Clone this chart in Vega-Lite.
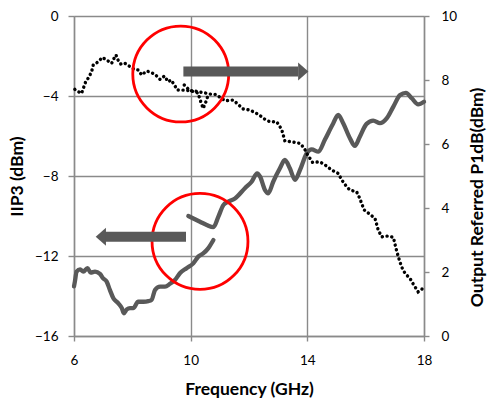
{
  "$schema": "https://vega.github.io/schema/vega-lite/v6.json",
  "autosize": "none",
  "width": 350,
  "height": 320,
  "padding": {"left": 74, "top": 16, "right": 63, "bottom": 63},
  "background": "white",
  "config": {
    "view": {"stroke": null},
    "font": "Lato",
    "axis": {
      "labelFont": "Lato", "labelFontSize": 13.5, "labelColor": "#000000",
      "titleFont": "Lato", "titleFontSize": 17.5, "titleFontWeight": "bold", "titleColor": "#000000",
      "domainColor": "#8a8a8a", "domainWidth": 1.4, "tickColor": "#8a8a8a", "tickWidth": 1.4,
      "gridColor": "#8a8a8a", "gridWidth": 1.4, "gridOpacity": 1
    }
  },
  "datasets": {
    "iip3": [
      {"f": 6.03, "v": -3.67, "seg": "A"}, {"f": 6.09, "v": -3.74, "seg": "A"}, {"f": 6.26, "v": -3.87, "seg": "A"},
      {"f": 6.32, "v": -3.62, "seg": "A"}, {"f": 6.40, "v": -3.29, "seg": "A"}, {"f": 6.52, "v": -3.04, "seg": "A"},
      {"f": 6.61, "v": -2.75, "seg": "A"}, {"f": 6.66, "v": -2.45, "seg": "A"}, {"f": 6.83, "v": -2.29, "seg": "A"},
      {"f": 6.97, "v": -2.07, "seg": "A"}, {"f": 7.16, "v": -2.24, "seg": "A"}, {"f": 7.29, "v": -2.37, "seg": "A"},
      {"f": 7.38, "v": -2.09, "seg": "A"}, {"f": 7.44, "v": -1.95, "seg": "A"}, {"f": 7.52, "v": -2.24, "seg": "A"},
      {"f": 7.60, "v": -2.40, "seg": "A"}, {"f": 7.72, "v": -2.34, "seg": "A"}, {"f": 7.89, "v": -2.50, "seg": "A"},
      {"f": 8.07, "v": -2.67, "seg": "A"}, {"f": 8.20, "v": -2.70, "seg": "A"}, {"f": 8.32, "v": -2.95, "seg": "A"},
      {"f": 8.49, "v": -2.75, "seg": "A"}, {"f": 8.64, "v": -2.82, "seg": "A"}, {"f": 8.78, "v": -2.92, "seg": "A"},
      {"f": 8.95, "v": -3.17, "seg": "A"}, {"f": 9.10, "v": -3.00, "seg": "A"}, {"f": 9.23, "v": -3.29, "seg": "A"},
      {"f": 9.33, "v": -3.20, "seg": "A"}, {"f": 9.46, "v": -3.49, "seg": "A"}, {"f": 9.54, "v": -3.70, "seg": "A"},
      {"f": 9.67, "v": -3.70, "seg": "A"}, {"f": 9.85, "v": -3.72, "seg": "A"}, {"f": 10.05, "v": -3.76, "seg": "A"},
      {"f": 10.25, "v": -3.85, "seg": "A"}, {"f": 10.35, "v": -4.30, "seg": "A"}, {"f": 10.43, "v": -4.62, "seg": "A"},
      {"f": 10.52, "v": -4.30, "seg": "A"}, {"f": 10.60, "v": -3.95, "seg": "A"},
      {"f": 9.78, "v": -3.45, "seg": "B"}, {"f": 9.98, "v": -3.74, "seg": "B"}, {"f": 10.12, "v": -3.74, "seg": "B"},
      {"f": 10.26, "v": -3.79, "seg": "B"}, {"f": 10.50, "v": -3.85, "seg": "B"}, {"f": 10.72, "v": -3.92, "seg": "B"},
      {"f": 10.86, "v": -3.92, "seg": "B"}, {"f": 11.18, "v": -4.24, "seg": "B"}, {"f": 11.46, "v": -4.20, "seg": "B"},
      {"f": 11.80, "v": -4.65, "seg": "B"}, {"f": 12.03, "v": -4.70, "seg": "B"}, {"f": 12.32, "v": -4.92, "seg": "B"},
      {"f": 12.55, "v": -5.17, "seg": "B"}, {"f": 12.72, "v": -5.29, "seg": "B"}, {"f": 12.95, "v": -5.29, "seg": "B"},
      {"f": 13.12, "v": -5.67, "seg": "B"}, {"f": 13.23, "v": -6.25, "seg": "B"}, {"f": 13.46, "v": -6.29, "seg": "B"},
      {"f": 13.75, "v": -6.37, "seg": "B"}, {"f": 13.90, "v": -6.62, "seg": "B"}, {"f": 13.98, "v": -6.87, "seg": "B"},
      {"f": 14.18, "v": -7.32, "seg": "B"}, {"f": 14.43, "v": -7.29, "seg": "B"}, {"f": 14.66, "v": -7.50, "seg": "B"},
      {"f": 14.83, "v": -7.70, "seg": "B"}, {"f": 15.06, "v": -7.87, "seg": "B"}, {"f": 15.18, "v": -8.20, "seg": "B"},
      {"f": 15.35, "v": -8.54, "seg": "B"}, {"f": 15.46, "v": -8.70, "seg": "B"}, {"f": 15.69, "v": -8.79, "seg": "B"},
      {"f": 15.80, "v": -9.12, "seg": "B"}, {"f": 15.86, "v": -9.37, "seg": "B"}, {"f": 15.95, "v": -9.70, "seg": "B"},
      {"f": 16.15, "v": -9.92, "seg": "B"}, {"f": 16.32, "v": -10.12, "seg": "B"}, {"f": 16.43, "v": -10.70, "seg": "B"},
      {"f": 16.55, "v": -11.04, "seg": "B"}, {"f": 16.78, "v": -11.00, "seg": "B"}, {"f": 16.95, "v": -11.07, "seg": "B"},
      {"f": 17.04, "v": -11.62, "seg": "B"}, {"f": 17.12, "v": -12.04, "seg": "B"}, {"f": 17.23, "v": -12.54, "seg": "B"},
      {"f": 17.35, "v": -12.87, "seg": "B"}, {"f": 17.52, "v": -13.12, "seg": "B"}, {"f": 17.63, "v": -13.40, "seg": "B"},
      {"f": 17.80, "v": -13.79, "seg": "B"}, {"f": 17.90, "v": -13.70, "seg": "B"}, {"f": 18.0, "v": -13.54, "seg": "B"}
    ],
    "p1db": [
      {"f": 6.0, "p": 1.55, "seg": "A"}, {"f": 6.03, "p": 1.70, "seg": "A"}, {"f": 6.09, "p": 2.01, "seg": "A"},
      {"f": 6.21, "p": 2.08, "seg": "A"}, {"f": 6.32, "p": 2.01, "seg": "A"}, {"f": 6.46, "p": 2.12, "seg": "A"},
      {"f": 6.57, "p": 1.98, "seg": "A"}, {"f": 6.72, "p": 2.01, "seg": "A"}, {"f": 6.89, "p": 1.94, "seg": "A"},
      {"f": 7.00, "p": 1.80, "seg": "A"}, {"f": 7.12, "p": 1.70, "seg": "A"}, {"f": 7.23, "p": 1.44, "seg": "A"},
      {"f": 7.35, "p": 1.18, "seg": "A"}, {"f": 7.52, "p": 1.02, "seg": "A"}, {"f": 7.64, "p": 0.87, "seg": "A"},
      {"f": 7.71, "p": 0.71, "seg": "A"}, {"f": 7.81, "p": 0.83, "seg": "A"}, {"f": 7.92, "p": 0.87, "seg": "A"},
      {"f": 8.03, "p": 0.87, "seg": "A"}, {"f": 8.20, "p": 1.07, "seg": "A"}, {"f": 8.38, "p": 1.07, "seg": "A"},
      {"f": 8.55, "p": 1.09, "seg": "A"}, {"f": 8.66, "p": 1.13, "seg": "A"}, {"f": 8.78, "p": 1.44, "seg": "A"},
      {"f": 8.95, "p": 1.54, "seg": "A"}, {"f": 9.12, "p": 1.54, "seg": "A"}, {"f": 9.29, "p": 1.63, "seg": "A"},
      {"f": 9.46, "p": 1.75, "seg": "A"}, {"f": 9.63, "p": 1.96, "seg": "A"}, {"f": 9.86, "p": 2.12, "seg": "A"},
      {"f": 10.09, "p": 2.27, "seg": "A"}, {"f": 10.26, "p": 2.48, "seg": "A"}, {"f": 10.43, "p": 2.58, "seg": "A"},
      {"f": 10.60, "p": 2.74, "seg": "A"}, {"f": 10.78, "p": 3.00, "seg": "A"},
      {"f": 9.92, "p": 3.75, "seg": "B"}, {"f": 10.32, "p": 3.57, "seg": "B"}, {"f": 10.55, "p": 3.47, "seg": "B"},
      {"f": 10.78, "p": 3.40, "seg": "B"}, {"f": 10.95, "p": 3.73, "seg": "B"}, {"f": 11.12, "p": 4.09, "seg": "B"},
      {"f": 11.29, "p": 4.20, "seg": "B"}, {"f": 11.52, "p": 4.30, "seg": "B"}, {"f": 11.86, "p": 4.62, "seg": "B"},
      {"f": 12.09, "p": 4.82, "seg": "B"}, {"f": 12.28, "p": 5.08, "seg": "B"}, {"f": 12.38, "p": 4.98, "seg": "B"},
      {"f": 12.55, "p": 4.56, "seg": "B"}, {"f": 12.66, "p": 4.46, "seg": "B"}, {"f": 12.83, "p": 4.82, "seg": "B"},
      {"f": 13.06, "p": 5.24, "seg": "B"}, {"f": 13.23, "p": 5.50, "seg": "B"}, {"f": 13.40, "p": 5.24, "seg": "B"},
      {"f": 13.58, "p": 4.88, "seg": "B"}, {"f": 13.75, "p": 5.19, "seg": "B"}, {"f": 13.98, "p": 5.71, "seg": "B"},
      {"f": 14.15, "p": 5.83, "seg": "B"}, {"f": 14.38, "p": 5.76, "seg": "B"}, {"f": 14.60, "p": 6.13, "seg": "B"},
      {"f": 14.89, "p": 6.65, "seg": "B"}, {"f": 15.06, "p": 6.91, "seg": "B"}, {"f": 15.23, "p": 6.65, "seg": "B"},
      {"f": 15.46, "p": 6.18, "seg": "B"}, {"f": 15.63, "p": 5.94, "seg": "B"}, {"f": 15.80, "p": 6.23, "seg": "B"},
      {"f": 16.03, "p": 6.63, "seg": "B"}, {"f": 16.26, "p": 6.73, "seg": "B"}, {"f": 16.49, "p": 6.65, "seg": "B"},
      {"f": 16.72, "p": 6.80, "seg": "B"}, {"f": 16.95, "p": 7.17, "seg": "B"}, {"f": 17.18, "p": 7.53, "seg": "B"},
      {"f": 17.38, "p": 7.60, "seg": "B"}, {"f": 17.58, "p": 7.43, "seg": "B"}, {"f": 17.80, "p": 7.24, "seg": "B"},
      {"f": 18.0, "p": 7.32, "seg": "B"}
    ],
    "circles": [
      {"f": 9.66, "v": -2.9},
      {"f": 10.32, "v": -11.27}
    ],
    "arrows": [
      {"f": 9.75, "f2": 13.68, "hf": 13.86, "v": -2.77, "dir": "right"},
      {"f": 9.84, "f2": 7.06, "hf": 6.92, "v": -11.04, "dir": "left"}
    ]
  },
  "layer": [
    {
      "data": {"name": "p1db"},
      "mark": {"type": "line", "color": "#595959", "strokeWidth": 4.3, "strokeCap": "round", "strokeJoin": "round", "interpolate": "monotone"},
      "encoding": {
        "x": {"field": "f", "type": "quantitative", "scale": {"domain": [6, 18]},
              "axis": {"title": "Frequency (GHz)", "values": [6, 10, 14, 18], "grid": true, "tickSize": 5, "labelPadding": 12, "titlePadding": 14, "labelFlush": false}},
        "y": {"field": "p", "type": "quantitative", "scale": {"domain": [0, 10]},
              "axis": {"orient": "right", "title": "Output Referred P1dB(dBm)", "values": [0, 2, 4, 6, 8, 10], "grid": false, "tickSize": 5, "labelPadding": 12, "titleAngle": 270, "titleBaseline": "top", "titlePadding": 12, "titleY": 181}},
        "detail": {"field": "seg"}
      }
    },
    {
      "layer": [
        {
          "data": {"name": "iip3"},
          "mark": {"type": "line", "color": "#000000", "strokeWidth": 3.4, "strokeCap": "round", "strokeDash": [0.1, 4.7]},
          "encoding": {
            "x": {"field": "f", "type": "quantitative", "scale": {"domain": [6, 18]}},
            "y": {"field": "v", "type": "quantitative", "scale": {"domain": [-16, 0]},
                  "axis": {"orient": "left", "title": "IIP3 (dBm)", "values": [-16, -12, -8, -4, 0], "grid": true, "tickSize": 6, "labelPadding": 10, "titlePadding": 8}},
            "detail": {"field": "seg"}
          }
        },
        {
          "data": {"name": "circles"},
          "mark": {"type": "point", "filled": false, "stroke": "#ff0000", "strokeWidth": 2.8, "size": 9200, "opacity": 1},
          "encoding": {
            "x": {"field": "f", "type": "quantitative"},
            "y": {"field": "v", "type": "quantitative"}
          }
        },
        {
          "data": {"name": "arrows"},
          "mark": {"type": "rule", "color": "#595959", "strokeWidth": 10},
          "encoding": {
            "x": {"field": "f", "type": "quantitative"},
            "x2": {"field": "f2"},
            "y": {"field": "v", "type": "quantitative"}
          }
        },
        {
          "data": {"name": "arrows"},
          "mark": {"type": "point", "filled": true, "color": "#595959", "size": 324, "opacity": 1, "strokeWidth": 0},
          "encoding": {
            "x": {"field": "hf", "type": "quantitative"},
            "y": {"field": "v", "type": "quantitative"},
            "shape": {"field": "dir", "type": "nominal", "legend": null,
                      "scale": {"domain": ["left", "right"], "range": ["M0.57,-1L-0.57,0L0.57,1Z", "M-0.57,-1L0.57,0L-0.57,1Z"]}}
          }
        }
      ]
    }
  ],
  "resolve": {"scale": {"y": "independent"}, "axis": {"y": "independent"}}
}
